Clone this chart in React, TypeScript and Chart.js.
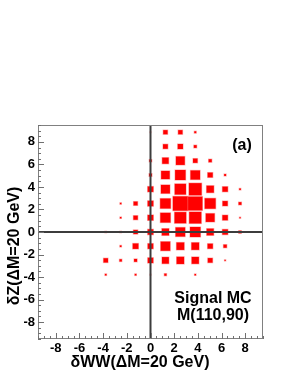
import React, { useEffect, useRef } from "react";
import { Chart, registerables } from "chart.js";

Chart.register(...registerables);

// Bin centres (x: δWW, y: δZ)
const xBins = [-3.78, -2.52, -1.26, 0, 1.26, 2.52, 3.78, 5.04, 6.3, 7.56];
const yBins = [8.86, 7.59, 6.33, 5.06, 3.8, 2.53, 1.27, 0, -1.26, -2.52, -3.79];
const binWidthX = 1.26;
const binWidthY = 1.265;

// Cell contents, one row per y bin (top to bottom), columns follow xBins
const counts = [
  [0, 0, 0, 5, 29, 29, 13, 0, 0, 0],
  [0, 0, 0, 0, 32, 35, 19, 0, 0, 0],
  [0, 0, 0, 16, 43, 59, 30, 21, 0, 0],
  [0, 0, 0, 19, 57, 70, 64, 34, 13, 0],
  [0, 0, 0, 38, 60, 75, 85, 49, 36, 11],
  [0, 10, 27, 38, 70, 100, 96, 73, 34, 19],
  [0, 10, 29, 38, 68, 78, 81, 59, 36, 8],
  [10, 10, 29, 38, 48, 64, 70, 47, 37, 18],
  [0, 11, 38, 37, 64, 52, 51, 35, 22, 0],
  [30, 16, 20, 37, 46, 50, 48, 32, 8, 0],
  [11, 0, 11, 6, 15, 0, 10, 0, 0, 0],
];

const tickValues = [-8, -6, -4, -2, 0, 2, 4, 6, 8];
const axisMin = -9.5;
const axisMax = 9.5;
const xTitle = "δWW(ΔM=20 GeV)";
const yTitle = "δZ(ΔM=20 GeV)";
const panelLabel = "(a)";
const infoLines = ["Signal MC", "M(110,90)"];

const FONT = "'Liberation Sans', Arial, Helvetica, sans-serif";

const cells: { x: number; y: number; v: number }[] = [];
counts.forEach((row, r) =>
  row.forEach((v, c) => {
    if (v > 0) cells.push({ x: xBins[c], y: yBins[r], v });
  })
);

const rootPlugin = {
  id: "rootBox",
  afterDatasetsDraw(chart: any) {
    const { ctx, chartArea: a } = chart;
    const xs = chart.scales.x;
    const ys = chart.scales.y;
    const data = chart.data.datasets[0].data as { x: number; y: number; v: number }[];
    const maxV = Math.max(...data.map((d) => d.v));
    ctx.save();
    // boxes
    data.forEach((d) => {
      const hw = (binWidthX * d.v) / maxV / 2;
      const hh = (binWidthY * d.v) / maxV / 2;
      const x0 = xs.getPixelForValue(d.x - hw);
      const x1 = xs.getPixelForValue(d.x + hw);
      const y0 = ys.getPixelForValue(d.y + hh);
      const y1 = ys.getPixelForValue(d.y - hh);
      ctx.fillStyle = "rgba(255,90,90,0.5)";
      ctx.fillRect(x0 - 0.6, y0 - 0.6, x1 - x0 + 1.2, y1 - y0 + 1.2);
      ctx.fillStyle = "#ff0000";
      ctx.fillRect(x0, y0, x1 - x0, y1 - y0);
    });
    // zero lines
    ctx.strokeStyle = "#3c3c3c";
    ctx.lineWidth = 2;
    const zx = xs.getPixelForValue(0);
    const zy = ys.getPixelForValue(0);
    ctx.beginPath();
    ctx.moveTo(zx, a.top);
    ctx.lineTo(zx, a.bottom);
    ctx.moveTo(a.left, zy);
    ctx.lineTo(a.right, zy);
    ctx.stroke();
    // frame
    ctx.strokeStyle = "#808080";
    ctx.lineWidth = 1;
    ctx.strokeRect(a.left + 0.5, a.top + 0.5, a.right - a.left - 1, a.bottom - a.top - 1);
    // inner ticks (bottom and left)
    ctx.strokeStyle = "#707070";
    ctx.beginPath();
    for (let v = axisMin; v <= axisMax + 1e-9; v += 0.5) {
      const major = Math.abs(v % 2) < 1e-9;
      const len = major ? 6 : 3;
      const px = Math.round(xs.getPixelForValue(v)) + 0.5;
      ctx.moveTo(px, a.bottom);
      ctx.lineTo(px, a.bottom - len);
      const py = Math.round(ys.getPixelForValue(v)) + 0.5;
      ctx.moveTo(a.left, py);
      ctx.lineTo(a.left + len, py);
    }
    ctx.stroke();
    ctx.restore();
  },
  afterDraw(chart: any) {
    const { ctx } = chart;
    ctx.save();
    ctx.fillStyle = "#000";
    ctx.font = `bold 16px ${FONT}`;
    ctx.textAlign = "center";
    ctx.textBaseline = "alphabetic";
    ctx.fillText(xTitle, 140, 367);
    ctx.fillText(panelLabel, 242, 149.5);
    ctx.fillText(infoLines[0], 213, 303);
    ctx.fillText(infoLines[1], 213, 320);
    ctx.translate(18.5, 246);
    ctx.rotate(-Math.PI / 2);
    ctx.fillText(yTitle, 0, 0);
    ctx.restore();
  },
};

export default function App() {
  const ref = useRef<HTMLCanvasElement>(null);
  useEffect(() => {
    document.body.style.margin = "0";
    const setTicks = (scale: any) => {
      scale.ticks = tickValues.map((v) => ({ value: v }));
    };
    const chart = new Chart(ref.current!, {
      type: "scatter",
      data: {
        datasets: [
          {
            data: cells,
            pointRadius: 0,
            pointHoverRadius: 0,
          },
        ],
      },
      options: {
        animation: false,
        responsive: false,
        events: [],
        layout: { padding: { top: 125, right: 28, left: 0, bottom: 0 } },
        plugins: { legend: { display: false }, tooltip: { enabled: false } },
        scales: {
          x: {
            type: "linear",
            min: axisMin,
            max: axisMax,
            afterBuildTicks: setTicks,
            afterFit: (s: any) => {
              s.height = 37;
            },
            grid: { display: false, drawTicks: false },
            border: { display: false },
            ticks: {
              padding: 2,
              maxRotation: 0,
              autoSkip: false,
              color: "#000",
              font: { family: FONT, size: 13, weight: "bold" },
              callback: (v: any) => String(v),
            },
          },
          y: {
            type: "linear",
            min: axisMin,
            max: axisMax,
            afterBuildTicks: setTicks,
            afterFit: (s: any) => {
              s.width = 38;
            },
            grid: { display: false, drawTicks: false },
            border: { display: false },
            ticks: {
              padding: 3,
              autoSkip: false,
              color: "#000",
              font: { family: FONT, size: 13, weight: "bold" },
              callback: (v: any) => String(v),
            },
          },
        },
      },
      plugins: [rootPlugin],
    });
    return () => chart.destroy();
  }, []);
  return (
    <div style={{ position: "fixed", left: 0, top: 0, width: 291, height: 376, background: "#fff" }}>
      <canvas ref={ref} width={291} height={376} />
    </div>
  );
}
